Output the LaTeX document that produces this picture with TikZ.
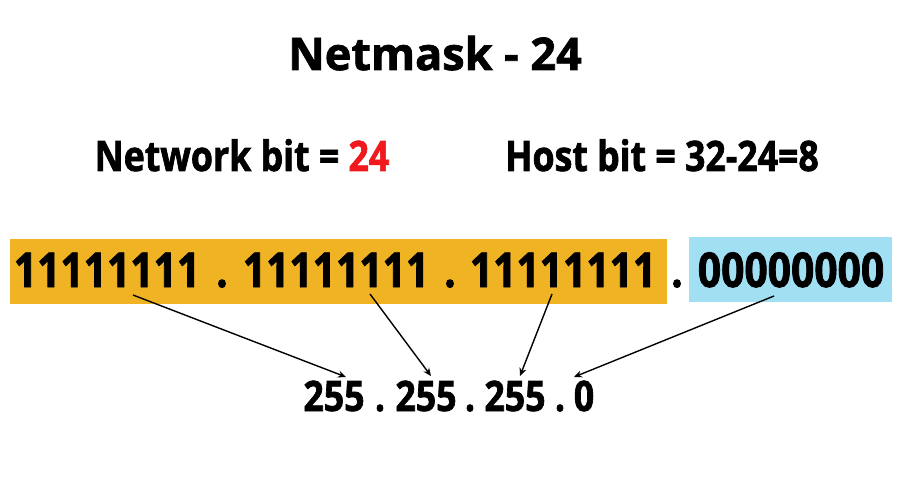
\documentclass[tikz,border=0pt]{standalone}
\usepackage{fontspec}
\setmainfont{Open Sans}
\newfontfamily\headfont[FakeBold=1.6]{Open Sans}
\newfontfamily\condfont[FakeStretch=0.85,FakeBold=1.6]{Open Sans}
\usetikzlibrary{arrows.meta}
\definecolor{netyellow}{RGB}{240,179,35}
\definecolor{hostblue}{RGB}{161,224,243}
\definecolor{bitred}{RGB}{240,26,30}
\begin{document}
\begin{tikzpicture}[x=1pt,y=-1pt,
  txt/.style={inner sep=0pt, anchor=base},
  titletext/.style={txt, font=\headfont\fontsize{45}{50}\selectfont\bfseries},
  labeltext/.style={txt, font=\condfont\fontsize{42}{46}\selectfont\bfseries},
  bittext/.style={txt, font=\condfont\fontsize{48}{52}\selectfont\bfseries},
  masktext/.style={txt, font=\condfont\fontsize{42}{46}\selectfont\bfseries},
  band/.style={draw=none, inner sep=0pt, anchor=north west},
  conn/.style={line width=1.4pt, -{Stealth[length=8pt,width=7pt]}}]
\useasboundingbox (0,0) rectangle (900,500);
\fill[white] (0,0) rectangle (900,500);

% heading
\node[titletext] (title) at (435,70) {Netmask - 24};

% bit counts
\node[labeltext] (netbits) at (242,171) {Network bit = \textcolor{bitred}{24}};
\node[labeltext] (hostbits) at (662,171) {Host bit = 32-24=8};

% coloured bands behind the network and host parts
\node[band, fill=netyellow, minimum width=657pt, minimum height=65pt] (netband) at (10,239) {};
\node[band, fill=hostblue, minimum width=203pt, minimum height=65pt] (hostband) at (689,237) {};

% the four octets in binary
\node[bittext] (o1) at (107,287) {11111111};
\node[bittext] (d1) at (222,287) {.};
\node[bittext] (o2) at (336,287) {11111111};
\node[bittext] (d2) at (450,287) {.};
\node[bittext] (o3) at (563,287) {11111111};
\node[bittext] (d3) at (677,287) {.};
\node[bittext] (o4) at (791,287) {00000000};

% the mask in dotted decimal
\node[masktext] (m1) at (334,411) {255};
\node[masktext] (e1) at (380,411) {.};
\node[masktext] (m2) at (426,411) {255};
\node[masktext] (e2) at (470,411) {.};
\node[masktext] (m3) at (515,411) {255};
\node[masktext] (e3) at (560,411) {.};
\node[masktext] (m4) at (584,411) {0};

% arrow end points
\coordinate (s1) at (133,295);
\coordinate (s2) at (370,294);
\coordinate (s3) at (552,294);
\coordinate (s4) at (774,296);
\coordinate (t1) at (346,377);
\coordinate (t2) at (431,376);
\coordinate (t3) at (520,376);
\coordinate (t4) at (574,377);

\draw[conn] (s1) -- (t1);
\draw[conn] (s2) -- (t2);
\draw[conn] (s3) -- (t3);
\draw[conn] (s4) -- (t4);
\end{tikzpicture}
\end{document}
